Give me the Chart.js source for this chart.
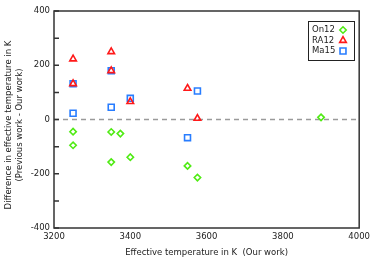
<!DOCTYPE html>
<html>
<head>
<meta charset="utf-8">
<script src="https://cdn.jsdelivr.net/npm/chart.js@4.4.0/dist/chart.umd.min.js"></script>
<style>
  html, body { margin: 0; padding: 0; background: #fff; }
  #chart { display: block; }
</style>
</head>
<body>
<canvas id="chart" width="374" height="264"></canvas>
<script>
// Teff (our work) vs difference (previous work - our work)
const on12X = [3250, 3250, 3350, 3350, 3374, 3400, 3550, 3576, 3900];
const on12Y = [-45, -95, -46, -157, -52, -139, -171, -214, 8];

const ra12X = [3250, 3250, 3350, 3350, 3400, 3550, 3576];
const ra12Y = [223, 132, 250, 180, 66, 115, 4];

const ma15X = [3250, 3250, 3350, 3350, 3400, 3550, 3576];
const ma15Y = [132, 23, 180, 45, 78, -67, 105];

const zeroLineX = [3200, 4000];
const zeroLineY = [0, 0];

const xTitle = 'Effective temperature in K  (Our work)';
const yTitle = ['Difference in effective temperature in K', '(Previous work - Our work)'];

const FONT = 'DejaVu Sans';
const GREEN = 'rgb(80,235,20)';
const RED = 'rgb(255,25,25)';
const BLUE = 'rgb(40,125,255)';

function pts(xs, ys) {
    return xs.map((x, i) => ({ x: x, y: ys[i] }));
}

const series = [
    { label: 'On12', xs: on12X, ys: on12Y, color: GREEN, style: 'rectRot', radius: 3.2 },
    { label: 'RA12', xs: ra12X, ys: ra12Y, color: RED, style: 'triangle', radius: 3.8 },
    { label: 'Ma15', xs: ma15X, ys: ma15Y, color: BLUE, style: 'rect', radius: 4.2 }
];

// frame, inward ticks, axis titles and boxed legend
const decorPlugin = {
    id: 'decor',
    afterDraw(chart) {
        const ctx = chart.ctx;
        const a = chart.chartArea;
        const ys = chart.scales.y;
        ctx.save();
        ctx.strokeStyle = '#333';
        ctx.lineWidth = 1.5;
        ctx.strokeRect(a.left, a.top, a.right - a.left, a.bottom - a.top);

        ctx.beginPath();
        ys.ticks.forEach(t => {
            const py = ys.getPixelForValue(t.value);
            ctx.moveTo(a.left, py);
            ctx.lineTo(a.left + 5, py);
        });
        ctx.stroke();

        ctx.fillStyle = '#222';
        ctx.font = '8.5px "' + FONT + '"';
        ctx.textAlign = 'center';
        ctx.textBaseline = 'middle';
        ctx.fillText(xTitle, (a.left + a.right) / 2, 253);

        ctx.save();
        ctx.translate(9, 125);
        ctx.rotate(-Math.PI / 2);
        ctx.fillText(yTitle[0], 0, 0);
        ctx.fillText(yTitle[1], 0, 11);
        ctx.restore();

        // legend box
        const bx = 308, by = 21, bw = 46, bh = 39;
        ctx.lineWidth = 1;
        ctx.strokeStyle = '#222';
        ctx.fillStyle = '#fff';
        ctx.fillRect(bx, by, bw, bh);
        ctx.strokeRect(bx + 0.5, by + 0.5, bw, bh);
        series.forEach((s, i) => {
            const ly = 30 + i * 10.5;
            ctx.fillStyle = '#222';
            ctx.textAlign = 'left';
            ctx.fillText(s.label, 312, ly);
            ctx.strokeStyle = s.color;
            ctx.fillStyle = 'rgba(0,0,0,0)';
            ctx.lineWidth = 1.6;
            Chart.helpers.drawPoint(ctx, { pointStyle: s.style, radius: s.radius, rotation: 0, borderWidth: 1.6 }, 343, ly);
        });
        ctx.restore();
    }
};

const datasets = series.map(s => ({
    label: s.label,
    data: pts(s.xs, s.ys),
    showLine: false,
    pointStyle: s.style,
    pointRadius: s.radius,
    pointHoverRadius: s.radius,
    pointBorderWidth: 1.6,
    pointBorderColor: s.color,
    pointBackgroundColor: 'rgba(0,0,0,0)'
}));

datasets.push({
    label: 'zero',
    data: pts(zeroLineX, zeroLineY),
    showLine: true,
    borderColor: '#9a9a9a',
    borderWidth: 1.5,
    borderDash: [5, 4],
    pointRadius: 0
});

new Chart(document.getElementById('chart'), {
    type: 'scatter',
    data: { datasets: datasets },
    options: {
        responsive: false,
        animation: false,
        layout: { padding: { top: 11, right: 13, left: 0, bottom: 0 } },
        plugins: {
            legend: { display: false },
            tooltip: { enabled: false }
        },
        scales: {
            x: {
                min: 3200,
                max: 4000,
                afterFit(scale) { scale.height = 36; },
                grid: { display: false, drawTicks: false },
                border: { display: false },
                ticks: {
                    stepSize: 200,
                    padding: 4,
                    maxRotation: 0,
                    color: '#222',
                    font: { family: FONT, size: 8.5 },
                    callback: v => String(v)
                }
            },
            y: {
                min: -400,
                max: 400,
                afterFit(scale) { scale.width = 54; },
                grid: { display: false, drawTicks: false },
                border: { display: false },
                ticks: {
                    stepSize: 100,
                    padding: 4,
                    color: '#222',
                    font: { family: FONT, size: 8.5 },
                    callback: v => (v % 200 === 0 ? String(v) : '')
                }
            }
        }
    },
    plugins: [decorPlugin]
});
</script>
</body>
</html>
